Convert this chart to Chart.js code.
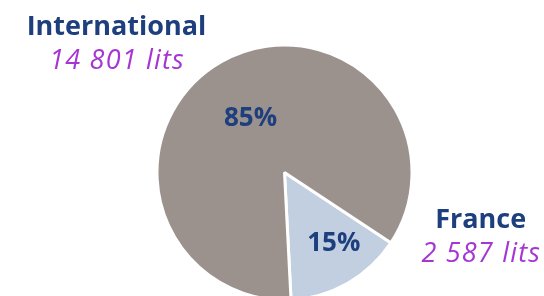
<!DOCTYPE html>
<html>
<head>
<meta charset="utf-8">
<script src="https://cdn.jsdelivr.net/npm/chart.js@4/dist/chart.umd.min.js"></script>
<style>
html,body{margin:0;padding:0;background:#fff;overflow:hidden;width:544px;height:296px;}
#wrap{position:absolute;left:0;top:0;width:544px;height:302px;}
</style>
</head>
<body>
<div id="wrap"><canvas id="c" width="544" height="302"></canvas></div>
<script>
// ---- data ----
const categories = ["France", "International"];
const volumes = [2587, 14801];
const unit = "lits";

// ---- styles ----
const sliceColors = ["#c1cfe1", "#9c928d"];
const nameColor = "#1d3f7e";
const valueColor = "#a636d4";
const fontFamily = "'Open Sans', sans-serif";
// label placement (polar, relative to pie centre, in units of radius; angle in degrees clockwise from 12 o'clock)
const pctLabelPos = [{r: 0.67, a: 144.8}, {r: 0.51, a: 328.5}];
const outerLabelPos = [{r: 1.615, a: 107.7}, {r: 1.67, a: 307.9}];

function fmtThousands(v){ return String(v).replace(/\B(?=(\d{3})+(?!\d))/g, "\u00a0"); }

const total = volumes.reduce((a,b)=>a+b,0);

const labelPlugin = {
  id: "labelPlugin",
  afterDatasetsDraw(chart){
    const ctx = chart.ctx;
    const meta = chart.getDatasetMeta(0);
    const arc0 = meta.data[0];
    const cx = arc0.x, cy = arc0.y, R = 127.5;
    ctx.save();
    ctx.textAlign = "center";
    ctx.textBaseline = "alphabetic";
    volumes.forEach((v, i) => {
      const pct = Math.round(v / total * 100) + "%";
      const p = pctLabelPos[i];
      const ang = p.a * Math.PI / 180;
      const x = cx + Math.sin(ang) * p.r * R;
      const y = cy - Math.cos(ang) * p.r * R;
      ctx.fillStyle = nameColor;
      ctx.letterSpacing = "0px";
      ctx.font = "bold 26px " + fontFamily;
      ctx.fillText(pct, x, y + 9);

      const o = outerLabelPos[i];
      const oa = o.a * Math.PI / 180;
      const ox = cx + Math.sin(oa) * o.r * R;
      const oy = cy - Math.cos(oa) * o.r * R;
      ctx.font = "bold 27px " + fontFamily;
      ctx.fillStyle = nameColor;
      ctx.fillText(categories[i], ox, oy - 7);
      ctx.font = "italic 27px " + fontFamily;
      ctx.letterSpacing = "1.2px";
      ctx.fillStyle = valueColor;
      ctx.fillText(fmtThousands(v) + " " + unit, ox + 0.6, oy + 27);
      ctx.letterSpacing = "0px";
    });
    ctx.restore();
  }
};

new Chart(document.getElementById("c"), {
  type: "pie",
  data: {
    labels: categories,
    datasets: [{
      data: volumes,
      backgroundColor: sliceColors,
      borderColor: "#ffffff",
      borderWidth: 3
    }]
  },
  options: {
    responsive: false,
    animation: false,
    devicePixelRatio: 1,
    rotation: 123.5,
    layout: { padding: { top: 43.5, left: 25, right: 0, bottom: 0.5 } },
    plugins: { legend: { display: false }, tooltip: { enabled: false } }
  },
  plugins: [labelPlugin]
});
</script>
</body>
</html>
